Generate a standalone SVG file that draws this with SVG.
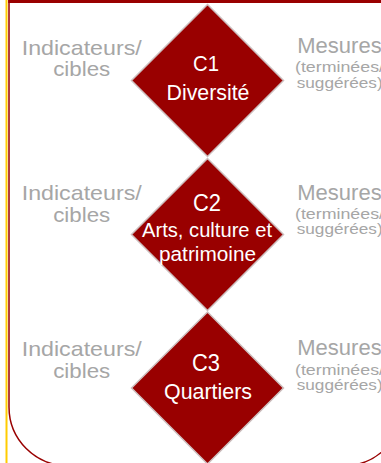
<svg xmlns="http://www.w3.org/2000/svg" width="381" height="463" viewBox="0 0 381 463">
<style>
.frame{fill:none;stroke:#990000;stroke-width:1.5}
.dia{fill:#990000;stroke:#CDBFBF;stroke-width:1.5}
.w{fill:#FFFFFF;font-family:"Liberation Sans",Arial,sans-serif;text-anchor:middle}
.g{fill:#A6A6A6;font-family:"Liberation Sans",Arial,sans-serif;text-anchor:middle}
.gl{fill:#A6A6A6;font-family:"Liberation Sans",Arial,sans-serif;text-anchor:start}
</style>
<rect x="0" y="0" width="381" height="463" fill="#FFFFFF"/>
<g id="frame">
<line x1="6.5" y1="0" x2="6.5" y2="463" stroke="#FFCC00" stroke-width="2"/>
<path class="frame" d="M 9 0 V 407 A 58.7 58.7 0 0 0 67.7 465.7 H 344 A 58.7 58.7 0 0 0 402.7 407 V 0"/>
<rect x="8.2" y="0" width="373" height="3" fill="#990000"/>
</g>
<g id="connectors"></g>
<g id="c1">
<polygon class="dia" points="207.5,4.5 283.5,80.5 207.5,156.5 131.5,80.5"/>
<text class="w" x="206" y="71" font-size="22" textLength="26" lengthAdjust="spacingAndGlyphs">C1</text>
<text class="w" x="208" y="100" font-size="21.5" textLength="83" lengthAdjust="spacingAndGlyphs">Diversité</text>
</g>
<g id="c2">
<polygon class="dia" points="207.5,158.5 283.5,234.5 207.5,310.5 131.5,234.5"/>
<text class="w" x="207" y="211" font-size="23" textLength="28" lengthAdjust="spacingAndGlyphs">C2</text>
<text class="w" x="207" y="237" font-size="20" textLength="130" lengthAdjust="spacingAndGlyphs">Arts, culture et</text>
<text class="w" x="207.5" y="261" font-size="20" textLength="97" lengthAdjust="spacingAndGlyphs">patrimoine</text>
</g>
<g id="c3">
<polygon class="dia" points="207.5,312 283.5,388 207.5,464 131.5,388"/>
<text class="w" x="206" y="371" font-size="23" textLength="28" lengthAdjust="spacingAndGlyphs">C3</text>
<text class="w" x="208" y="399" font-size="21.5" textLength="88" lengthAdjust="spacingAndGlyphs">Quartiers</text>
</g>
<g id="ind1">
<text class="g" x="81.7" y="55" font-size="21" textLength="120" lengthAdjust="spacingAndGlyphs">Indicateurs/</text>
<text class="g" x="81.7" y="76" font-size="21" textLength="57" lengthAdjust="spacingAndGlyphs">cibles</text>
</g>
<g id="ind2">
<text class="g" x="81.7" y="200" font-size="21" textLength="120" lengthAdjust="spacingAndGlyphs">Indicateurs/</text>
<text class="g" x="81.7" y="222" font-size="21" textLength="57" lengthAdjust="spacingAndGlyphs">cibles</text>
</g>
<g id="ind3">
<text class="g" x="81.7" y="356" font-size="21" textLength="120" lengthAdjust="spacingAndGlyphs">Indicateurs/</text>
<text class="g" x="81.7" y="378" font-size="21" textLength="57" lengthAdjust="spacingAndGlyphs">cibles</text>
</g>
<g id="mes1">
<text class="gl" x="297.3" y="53.3" font-size="22">Mesures</text>
<text class="gl" x="295" y="71.5" font-size="14.5" textLength="89" lengthAdjust="spacingAndGlyphs">(terminées/</text>
<text class="gl" x="296.7" y="87.5" font-size="14.5" textLength="86" lengthAdjust="spacingAndGlyphs">suggérées)</text>
</g>
<g id="mes2">
<text class="gl" x="297.3" y="200" font-size="22">Mesures</text>
<text class="gl" x="295" y="218.5" font-size="14.5" textLength="89" lengthAdjust="spacingAndGlyphs">(terminées/</text>
<text class="gl" x="296.7" y="234" font-size="14.5" textLength="86" lengthAdjust="spacingAndGlyphs">suggérées)</text>
</g>
<g id="mes3">
<text class="gl" x="297.3" y="355" font-size="22">Mesures</text>
<text class="gl" x="295" y="374.5" font-size="14.5" textLength="89" lengthAdjust="spacingAndGlyphs">(terminées/</text>
<text class="gl" x="296.7" y="389.8" font-size="14.5" textLength="86" lengthAdjust="spacingAndGlyphs">suggérées)</text>
</g>
</svg>
